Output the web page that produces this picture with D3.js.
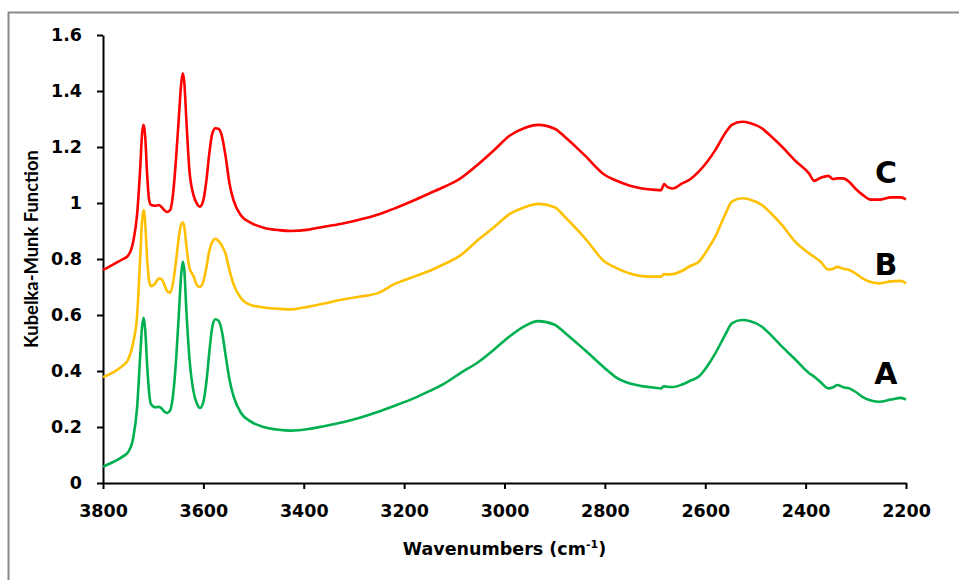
<!DOCTYPE html>
<html>
<head>
<meta charset="utf-8">
<script src="https://cdn.jsdelivr.net/npm/d3@7"></script>
<style>
  html, body { margin: 0; padding: 0; background: #fff; }
  svg { display: block; font-family: "DejaVu Sans", sans-serif; }
  .axis path, .axis line { stroke: #000; stroke-width: 2px; }
  .axis text { font-family: "DejaVu Sans", sans-serif; font-size: 17.5px; font-weight: bold; fill: #000; }
</style>
</head>
<body>
<div id="chart"></div>
<script>
  // shared wavenumber grid (cm-1)
  var wavenumbers = [3800, 3780, 3760, 3750, 3740, 3732, 3726, 3722, 3719, 3716, 3712, 3708, 3704,
    3695, 3689, 3683, 3678, 3672, 3666, 3660, 3654, 3648, 3644, 3641, 3638, 3634, 3628, 3620,
    3612, 3607, 3600, 3594, 3588, 3582, 3576, 3570, 3564, 3556, 3548, 3540, 3525, 3506, 3480,
    3450, 3426, 3390, 3360, 3320, 3290, 3250, 3220, 3180, 3150, 3120, 3090, 3050, 3020, 2990,
    2960, 2933, 2900, 2880, 2840, 2800, 2780, 2750, 2726, 2700, 2688, 2682, 2676, 2665, 2646,
    2630, 2613, 2595, 2580, 2560, 2547, 2527, 2510, 2487, 2470, 2447, 2420, 2393, 2383, 2370,
    2355, 2345, 2337, 2325, 2313, 2300, 2287, 2270, 2253, 2230, 2210, 2200];

  var seriesA = [0.058, 0.075, 0.095, 0.11, 0.16, 0.27, 0.45, 0.56, 0.59, 0.55, 0.42, 0.32, 0.28,
    0.27, 0.272, 0.266, 0.255, 0.25, 0.26, 0.32, 0.45, 0.63, 0.75, 0.79, 0.76, 0.62, 0.45, 0.33,
    0.28, 0.268, 0.29, 0.36, 0.47, 0.56, 0.585, 0.58, 0.55, 0.46, 0.37, 0.31, 0.25, 0.22, 0.2,
    0.19, 0.187, 0.193, 0.203, 0.218, 0.232, 0.255, 0.275, 0.303, 0.328, 0.355, 0.39, 0.435, 0.478, 0.523,
    0.56, 0.578, 0.565, 0.537, 0.475, 0.41, 0.38, 0.355, 0.346, 0.34, 0.338, 0.346, 0.344, 0.343, 0.352,
    0.365, 0.38, 0.42, 0.463, 0.53, 0.57, 0.582, 0.578, 0.558, 0.53, 0.487, 0.44, 0.392, 0.38, 0.36,
    0.338, 0.342, 0.35, 0.342, 0.338, 0.325, 0.308, 0.295, 0.29, 0.298, 0.304, 0.298];

  var seriesB = [0.378, 0.395, 0.42, 0.44, 0.5, 0.6, 0.8, 0.94, 0.975, 0.93, 0.8, 0.72, 0.703,
    0.715, 0.73, 0.728, 0.71, 0.685, 0.68, 0.72, 0.8, 0.89, 0.925, 0.93, 0.915, 0.85, 0.77, 0.74,
    0.705, 0.7, 0.72, 0.77, 0.83, 0.862, 0.872, 0.865, 0.85, 0.82, 0.76, 0.71, 0.66, 0.636, 0.627,
    0.622, 0.62, 0.63, 0.641, 0.656, 0.665, 0.68, 0.71, 0.737, 0.757, 0.782, 0.81, 0.872, 0.915, 0.96,
    0.985, 0.997, 0.985, 0.951, 0.875, 0.79, 0.77, 0.748, 0.739, 0.737, 0.737, 0.746, 0.745, 0.746, 0.758,
    0.775, 0.79, 0.835, 0.88, 0.96, 1.005, 1.017, 1.012, 0.993, 0.965, 0.921, 0.86, 0.82, 0.808, 0.79,
    0.762, 0.765, 0.772, 0.765, 0.761, 0.748, 0.731, 0.718, 0.713, 0.72, 0.722, 0.713];

  var seriesC = [0.761, 0.78, 0.8, 0.812, 0.86, 0.96, 1.12, 1.25, 1.279, 1.24, 1.1, 1.01, 0.993,
    0.99, 0.993, 0.985, 0.975, 0.968, 0.975, 1.04, 1.17, 1.33, 1.43, 1.463, 1.43, 1.3, 1.12, 1.03,
    0.995, 0.987, 1.01, 1.08, 1.18, 1.25, 1.267, 1.265, 1.245, 1.17, 1.07, 1.01, 0.955, 0.93, 0.912,
    0.903, 0.9, 0.905, 0.915, 0.928, 0.94, 0.96, 0.98, 1.01, 1.034, 1.058, 1.085, 1.142, 1.19, 1.24,
    1.268, 1.279, 1.265, 1.237, 1.17, 1.1, 1.082, 1.062, 1.052, 1.047, 1.046, 1.068, 1.058, 1.052, 1.07,
    1.085, 1.112, 1.15, 1.189, 1.25, 1.279, 1.29, 1.285, 1.267, 1.24, 1.201, 1.15, 1.105, 1.079, 1.09,
    1.097, 1.085, 1.088, 1.088, 1.075, 1.05, 1.03, 1.012, 1.012, 1.02, 1.02, 1.013];

  var seriesNames = ['A', 'B', 'C'];
  var seriesColors = ['#00B050', '#FFC000', '#FF0000'];
  var xTicks = [3800, 3600, 3400, 3200, 3000, 2800, 2600, 2400, 2200];
  var yTicks = [0, 0.2, 0.4, 0.6, 0.8, 1, 1.2, 1.4, 1.6];

  var WIDTH = 959;
  var HEIGHT = 580;
  var MARGIN = { TOP: 35, RIGHT: 53, BOTTOM: 97, LEFT: 103 };
  var LABEL_GAP = [16, 8, 16]; // px between trace end and its letter
  var width = WIDTH - MARGIN.LEFT - MARGIN.RIGHT;
  var height = HEIGHT - MARGIN.TOP - MARGIN.BOTTOM;

  var svg = d3.select('#chart').append('svg')
    .attr('width', WIDTH)
    .attr('height', HEIGHT);

  // outer chart frame
  svg.append('rect')
    .attr('x', 8.5)
    .attr('y', 12.5)
    .attr('width', 1000)
    .attr('height', 1000)
    .style('fill', 'none')
    .style('stroke', '#898989')
    .style('stroke-width', 2);

  var g = svg.append('g')
    .attr('transform', 'translate(' + MARGIN.LEFT + ',' + MARGIN.TOP + ')');

  var x = d3.scaleLinear()
    .domain([3800, 2200])
    .range([0, width]);

  var y = d3.scaleLinear()
    .domain([0, 1.6])
    .range([height, 0]);

  var xAxis = d3.axisBottom(x)
    .tickValues(xTicks)
    .tickFormat(d3.format('d'))
    .tickSize(6)
    .tickSizeOuter(0)
    .tickPadding(16);

  var yAxis = d3.axisLeft(y)
    .tickValues(yTicks)
    .tickFormat(function(d) { return String(+d.toFixed(1)); })
    .tickSize(6)
    .tickSizeOuter(0)
    .tickPadding(15);

  g.append('g')
    .attr('class', 'x axis')
    .attr('transform', 'translate(0,' + height + ')')
    .call(xAxis);

  g.append('g')
    .attr('class', 'y axis')
    .call(yAxis);

  var line = d3.line()
    .x(function(d) { return x(d[0]); })
    .y(function(d) { return y(d[1]); })
    .curve(d3.curveMonotoneX);

  [seriesA, seriesB, seriesC].forEach(function(values, i) {
    var pts = wavenumbers.map(function(w, j) { return [w, values[j]]; });
    g.append('path')
      .datum(pts)
      .attr('d', line)
      .style('fill', 'none')
      .style('stroke', seriesColors[i])
      .style('stroke-width', 2.6)
      .style('stroke-linejoin', 'round');

    // curve letter sits just above the right end of each trace
    var last = values[values.length - 1];
    g.append('text')
      .attr('x', x(2240))
      .attr('y', y(last) - LABEL_GAP[i])
      .attr('text-anchor', 'middle')
      .style('font-size', '30px')
      .style('font-weight', 'bold')
      .style('fill', '#000')
      .text(seriesNames[i]);
  });

  // axis titles
  svg.append('text')
    .attr('transform', 'translate(38,249) rotate(-90)')
    .attr('text-anchor', 'middle')
    .style('font-family', 'Lato, sans-serif')
    .style('font-size', '18.4px')
    .style('font-weight', 'bold')
    .text('Kubelka-Munk Function');

  var xt = svg.append('text')
    .attr('x', MARGIN.LEFT + width / 2)
    .attr('y', 555)
    .attr('text-anchor', 'middle')
    .style('font-size', '17.5px')
    .style('font-weight', 'bold');
  xt.append('tspan').text('Wavenumbers (cm');
  xt.append('tspan').attr('dy', -7).style('font-size', '11px').text('-1');
  xt.append('tspan').attr('dy', 7).text(')');
</script>
</body>
</html>
